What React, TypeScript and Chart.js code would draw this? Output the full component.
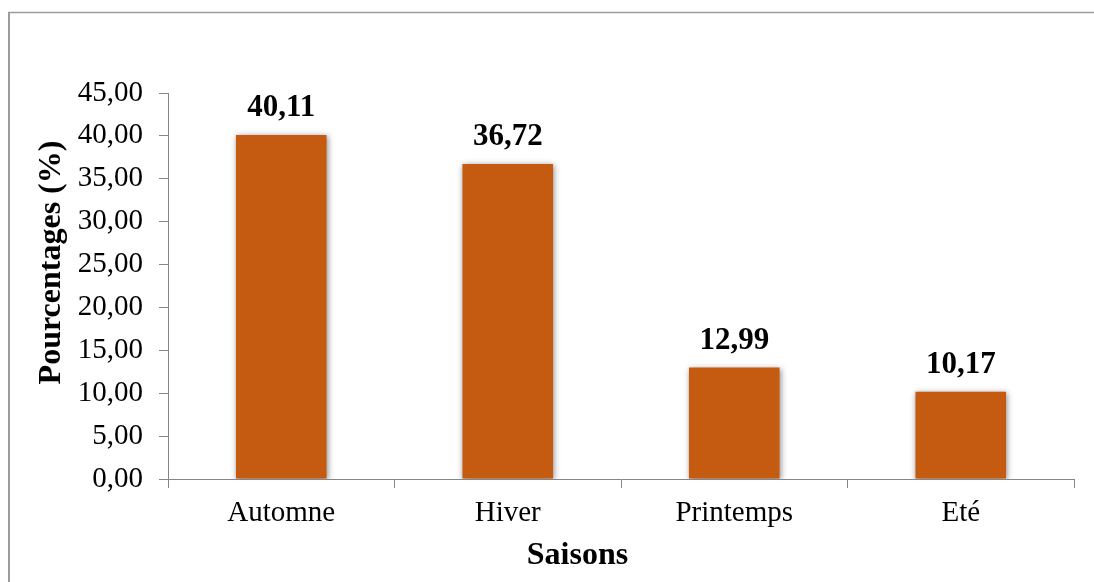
import React, { useEffect, useRef } from "react";
import { Chart, registerables } from "chart.js";

Chart.register(...registerables);

// Seasonal distribution (%)
const seasons: string[] = ["Automne", "Hiver", "Printemps", "Eté"];
const percentages: number[] = [40.11, 36.72, 12.99, 10.17];

const yMin = 0;
const yMax = 45;
const yStep = 5;

const xTitle = "Saisons";
const yTitle = "Pourcentages (%)";

const BAR_COLOR = "#C55A11";
const AXIS_COLOR = "#868686";
const FONT = "'Liberation Serif', 'Times New Roman', serif";

const fmt = (v: number) => v.toFixed(2).replace(".", ",");

// Outer frame around the chart
const framePlugin = {
  id: "frame",
  beforeDraw(chart: Chart) {
    const ctx = chart.ctx;
    ctx.save();
    ctx.strokeStyle = "#9c9c9c";
    ctx.lineWidth = 2;
    ctx.beginPath();
    ctx.moveTo(9, 12);
    ctx.lineTo(9, chart.height + 5);
    ctx.stroke();
    ctx.lineWidth = 1.5;
    ctx.beginPath();
    ctx.moveTo(8, 12.5);
    ctx.lineTo(chart.width + 5, 12.5);
    ctx.stroke();
    ctx.restore();
  },
};

// Axis titles, placed freely (the plot's titles sit off-centre)
const axisTitlePlugin = {
  id: "axisTitles",
  afterDraw(chart: Chart) {
    const ctx = chart.ctx;
    const { left, right, top, bottom } = chart.chartArea;
    ctx.save();
    ctx.font = `bold 32px ${FONT}`;
    ctx.fillStyle = "#000";
    ctx.textAlign = "center";
    ctx.textBaseline = "alphabetic";
    // x title: shifted left of the plot centre
    const xCenter = (left + right) / 2 - 43.5;
    ctx.fillText(xTitle, xCenter, bottom + 84.5);
    // y title: rotated, shifted up from the plot centre
    const yCenter = (top + bottom) / 2 - 23.5;
    ctx.translate(59.5, yCenter);
    ctx.rotate(-Math.PI / 2);
    ctx.fillText(yTitle, 0, 0);
    ctx.restore();
  },
};

// Soft drop shadow under the bars
const shadowPlugin = {
  id: "barShadow",
  beforeDatasetDraw(chart: Chart) {
    const ctx = chart.ctx;
    ctx.save();
    ctx.shadowColor = "rgba(0,0,0,0.45)";
    ctx.shadowBlur = 6;
    ctx.shadowOffsetX = 1;
    ctx.shadowOffsetY = 1;
  },
  afterDatasetDraw(chart: Chart) {
    chart.ctx.restore();
  },
};

// Bold value above each bar
const valueLabelPlugin = {
  id: "valueLabels",
  afterDatasetsDraw(chart: Chart) {
    const ctx = chart.ctx;
    const meta = chart.getDatasetMeta(0);
    const data = chart.data.datasets[0].data as number[];
    ctx.save();
    ctx.font = `bold 31px ${FONT}`;
    ctx.fillStyle = "#000";
    ctx.textAlign = "center";
    ctx.textBaseline = "alphabetic";
    meta.data.forEach((el: any, i: number) => {
      ctx.fillText(fmt(data[i]), el.x, el.y - 19);
    });
    ctx.restore();
  },
};

export default function App() {
  const canvasRef = useRef<HTMLCanvasElement | null>(null);

  useEffect(() => {
    if (!canvasRef.current) return;
    const chart = new Chart(canvasRef.current, {
      type: "bar",
      data: {
        labels: seasons,
        datasets: [
          {
            data: percentages,
            backgroundColor: BAR_COLOR,
            borderWidth: 0,
            barPercentage: 0.4,
            categoryPercentage: 1,
          },
        ],
      },
      options: {
        animation: false,
        responsive: true,
        maintainAspectRatio: false,
        layout: { padding: { top: 93, right: 20, left: 0, bottom: 0 } },
        plugins: {
          legend: { display: false },
          tooltip: { enabled: false },
        },
        scales: {
          x: {
            grid: {
              drawOnChartArea: false,
              drawTicks: true,
              tickLength: 9,
              color: AXIS_COLOR,
              offset: true,
            },
            border: { color: AXIS_COLOR, width: 1 },
            ticks: {
              color: "#000",
              padding: 8,
              font: { family: FONT, size: 29 },
            },
            title: { display: false },
            afterFit(scale: any) {
              scale.height = 103;
            },
          },
          y: {
            min: yMin,
            max: yMax,
            grid: {
              drawOnChartArea: false,
              drawTicks: true,
              tickLength: 9,
              color: AXIS_COLOR,
            },
            border: { color: AXIS_COLOR, width: 1 },
            ticks: {
              stepSize: yStep,
              color: "#000",
              padding: 16,
              font: { family: FONT, size: 29 },
              callback: (v: any) => fmt(Number(v)),
            },
            title: { display: false },
            afterFit(scale: any) {
              scale.width = 168;
            },
          },
        },
      },
      plugins: [framePlugin, shadowPlugin, valueLabelPlugin, axisTitlePlugin],
    });
    return () => chart.destroy();
  }, []);

  return (
    <div
      style={{
        position: "fixed",
        left: 0,
        top: 0,
        width: 1094,
        height: 582,
        background: "#fff",
      }}
    >
      <canvas ref={canvasRef} />
    </div>
  );
}
